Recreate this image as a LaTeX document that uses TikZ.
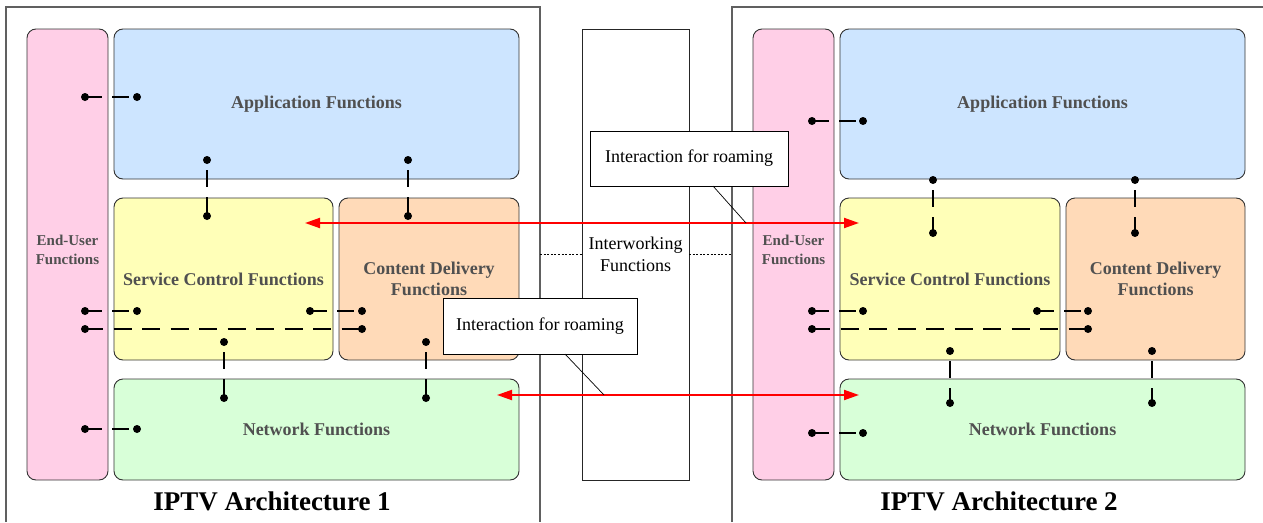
\documentclass[tikz,border=0pt]{standalone}
\usepackage{fontspec}
\setmainfont{Liberation Serif}
\usetikzlibrary{arrows.meta}
\definecolor{eucol}{HTML}{FFCFE7}
\definecolor{appcol}{HTML}{CDE5FF}
\definecolor{sccol}{HTML}{FFFFB8}
\definecolor{cdcol}{HTML}{FFDAB8}
\definecolor{nfcol}{HTML}{D8FFD8}
\definecolor{labelgray}{HTML}{505050}
\definecolor{framegray}{HTML}{606060}
\begin{document}
\begin{tikzpicture}[x=1pt,y=-1pt,
  frame/.style={draw=framegray,line width=1.4pt},
  funcbox/.style={draw=black!80,line width=0.9pt,rounded corners=9pt,inner sep=0pt,outer sep=0pt,
    align=center,text=labelgray,font=\fontsize{18}{21}\selectfont\bfseries},
  eubox/.style={funcbox,fill=eucol},
  eulabel/.style={align=center,text=labelgray,font=\fontsize{15}{19}\selectfont\bfseries},
  iwbox/.style={draw=black!85,line width=1pt,fill=white,inner sep=0pt,outer sep=0pt,align=center,
    font=\fontsize{18}{22}\selectfont},
  callout/.style={draw=black,line width=0.9pt,fill=white,inner sep=0pt,outer sep=0pt,
    font=\fontsize{18}{21}\selectfont},
  leader/.style={draw=black,line width=0.7pt},
  dotline/.style={draw=black,line width=1.6pt,dash pattern=on 2pt off 1.6pt},
  hlink/.style={draw=black,line width=2.4pt,dash pattern=on 17pt off 10pt},
  vlink/.style={hlink,dash phase=17pt},
  longlink/.style={draw=black,line width=2.4pt,dash pattern=on 18pt off 10.5pt},
  roam/.style={draw=red,line width=2pt,{Triangle[length=15pt,width=10pt]}-{Triangle[length=15pt,width=10pt]}},
  title/.style={font=\fontsize{27}{30}\selectfont\bfseries,text=black}
]
\useasboundingbox (0,0) rectangle (1263,522);

% outer frames of the two architectures
\draw[frame] (6,522) -- (6,7) -- (540,7) -- (540,522);
\draw[frame] (732,522) -- (732,7) -- (1263,7);
\coordinate (f1r) at (540,254.5);
\coordinate (f2l) at (732,254.5);

% interworking block between them
\node[iwbox,minimum width=107pt,minimum height=451pt] (iw) at (635.5,254.5) {Interworking\\Functions};
\draw[dotline] (f1r) -- (iw.west);
\draw[dotline] (iw.east) -- (f2l);

% architecture 1
\node[eubox,minimum width=81pt,minimum height=451pt] (eu1) at (67.5,254.5) {};
\node[eulabel] (eu1l) at (67.5,250) {End-User\\Functions};
\node[funcbox,fill=appcol,minimum width=405pt,minimum height=150pt] (app1) at (316.5,104) {Application Functions};
\node[funcbox,fill=sccol,minimum width=219pt,minimum height=162pt] (sc1) at (223.5,279) {Service Control Functions};
\node[funcbox,fill=cdcol,minimum width=180pt,minimum height=162pt] (cd1) at (429,279) {Content Delivery\\Functions};
\node[funcbox,fill=nfcol,minimum width=405pt,minimum height=101pt] (nf1) at (316.5,429.5) {Network Functions};

% architecture 2
\node[eubox,minimum width=81pt,minimum height=451pt] (eu2) at (793.5,254.5) {};
\node[eulabel] (eu2l) at (793.5,250) {End-User\\Functions};
\node[funcbox,fill=appcol,minimum width=405pt,minimum height=150pt] (app2) at (1042.5,104) {Application Functions};
\node[funcbox,fill=sccol,minimum width=220pt,minimum height=162pt] (sc2) at (950,279) {Service Control Functions};
\node[funcbox,fill=cdcol,minimum width=179pt,minimum height=162pt] (cd2) at (1155.5,279) {Content Delivery\\Functions};
\node[funcbox,fill=nfcol,minimum width=405pt,minimum height=101pt] (nf2) at (1042.5,429.5) {Network Functions};

% reference points between functional blocks
\foreach \n/\ax/\ay/\bx/\by/\s in {
  a/85/97/137/97/hlink, b/207/160/207/216/vlink, c/408/160/408/216/vlink,
  d/85/311/137/311/hlink, e/310/311/362/311/hlink, f/85/329/362/329/longlink,
  g/224/342/224/398/vlink, h/426/342/426/398/vlink, i/85/429/137/429/hlink,
  j/812/121/863/121/hlink, k/933/180/933/233/vlink, l/1135/180/1135/233/vlink,
  m/812/311/863/311/hlink, n/1037/311/1088/311/hlink, o/812/329/1088/329/longlink,
  p/950/351/950/403/vlink, q/1152/351/1152/403/vlink, r/812/433/863/433/hlink}{
  \coordinate (rp\n1) at (\ax,\ay);
  \coordinate (rp\n2) at (\bx,\by);
  \draw[\s] (rp\n1) -- (rp\n2);
  \fill (rp\n1) circle (4pt) (rp\n2) circle (4pt);
}

% roaming interactions
\coordinate (r1a) at (305,223);
\coordinate (r1b) at (859,223);
\coordinate (r2a) at (497,395);
\coordinate (r2b) at (859,395);
\draw[roam] (r1a) -- (r1b);
\draw[roam] (r2a) -- (r2b);

% callouts
\node[callout,minimum width=198pt,minimum height=55pt] (c1) at (689,158.5) {Interaction for roaming};
\node[callout,minimum width=194pt,minimum height=56pt] (c2) at (540,326) {Interaction for roaming};
\coordinate (c1t) at (713,186);
\coordinate (c1e) at (746,223);
\coordinate (c2t) at (565,354);
\coordinate (c2e) at (604,395);
\draw[leader] (c1t) -- (c1e);
\draw[leader] (c2t) -- (c2e);

% titles
\node[title] (t1) at (272,501) {IPTV Architecture 1};
\node[title] (t2) at (999,501) {IPTV Architecture 2};
\end{tikzpicture}
\end{document}
